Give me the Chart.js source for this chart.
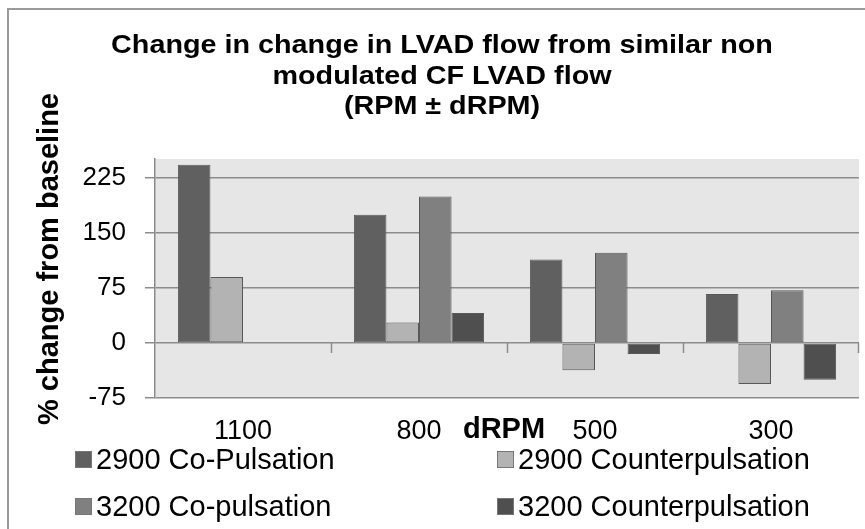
<!DOCTYPE html>
<html>
<head>
<meta charset="utf-8">
<script src="https://cdn.jsdelivr.net/npm/chart.js@4.4.1/dist/chart.umd.min.js"></script>
<style>
  body { margin: 0; background: #fff; }
  #wrap { position: relative; width: 865px; height: 529px; overflow: hidden; }
  #frame { position: absolute; left: 7px; top: 8px; width: 870px; height: 530px; border: 2px solid #9a9a9a; box-sizing: border-box; }
  canvas { position: absolute; left: 0; top: 0; }
  .leg { position: absolute; font: 29px "Liberation Sans", Arial, sans-serif; color: #000; white-space: nowrap; line-height: 34px; }
  .leg span.box { display: inline-block; width: 15px; height: 15px; border: 1px solid #777; margin-right: 4px; vertical-align: 1px; }
</style>
</head>
<body>
<div id="wrap">
  <div id="frame"></div>
  <canvas id="chart" width="865" height="529"></canvas>
  <div id="legend"></div>
</div>
<script>
// chart data
const categories = ['1100', '800', '500', '300'];
const seriesNames = ['2900 Co-Pulsation', '2900 Counterpulsation', '3200 Co-pulsation', '3200 Counterpulsation'];
const co2900 = [243, 175, 114, 67];
const counter2900 = [90, 28, -37, -56];
const co3200 = [null, 200, 123, 72];
const counter3200 = [null, 41, -15, -50];
const yTicks = [-75, 0, 75, 150, 225];

const titleLines = ['Change in change in LVAD flow from similar non', 'modulated CF LVAD flow', '(RPM \u00b1 dRPM)'];
const yTitle = '% change from baseline';
const xTitle = 'dRPM';

const colors = ['#606060', '#b3b3b3', '#808080', '#4f4f4f'];
const FONT = '"Liberation Sans", Arial, sans-serif';

// gray plot area, zero-line tick marks, titles
const extras = {
  id: 'extras',
  beforeDraw(chart) {
    const a = chart.chartArea, ctx = chart.ctx;
    ctx.save();
    ctx.fillStyle = '#e6e6e6';
    ctx.fillRect(a.left, a.top, a.right - a.left, a.bottom - a.top);
    ctx.restore();
  },
  afterDraw(chart) {
    const ctx = chart.ctx, x = chart.scales.x, y = chart.scales.y;
    const y0 = y.getPixelForValue(0);
    ctx.save();
    ctx.strokeStyle = '#8c8c8c';
    ctx.lineWidth = 1.5;
    for (let i = 1; i <= categories.length; i++) {
      let px = i < categories.length
        ? (x.getPixelForValue(i - 1) + x.getPixelForValue(i)) / 2
        : chart.chartArea.right - 1;
      px = Math.round(px) + 0.5;
      ctx.beginPath();
      ctx.moveTo(px, y0);
      ctx.lineTo(px, y0 + 10);
      ctx.stroke();
    }
    ctx.fillStyle = '#000';
    ctx.textAlign = 'center';

    // chart title, slightly widened like the original
    ctx.save();
    ctx.font = 'bold 25px ' + FONT;
    ctx.textBaseline = 'alphabetic';
    ctx.translate(442, 0);
    ctx.scale(1.15, 1);
    titleLines.forEach((t, i) => ctx.fillText(t, 0, 53 + i * 30.5));
    ctx.restore();

    ctx.textBaseline = 'middle';
    ctx.font = 'bold 29px ' + FONT;
    ctx.fillText(xTitle, 504, 430);
    ctx.translate(50, 259);
    ctx.rotate(-Math.PI / 2);
    ctx.fillText(yTitle, 0, 0);
    ctx.restore();
  }
};

const series = [co2900, counter2900, co3200, counter3200];

new Chart(document.getElementById('chart'), {
  type: 'bar',
  data: {
    labels: categories,
    datasets: series.map((d, i) => ({
      label: seriesNames[i],
      data: d,
      backgroundColor: colors[i],
      borderColor: '#585858',
      borderWidth: 1,
      borderSkipped: false,
      barPercentage: 1,
      categoryPercentage: 0.74
    }))
  },
  options: {
    responsive: false,
    animation: false,
    layout: { padding: { left: 0, right: 6, top: 159, bottom: 0 } },
    plugins: {
      legend: { display: false },
      tooltip: { enabled: false },
      title: { display: false }
    },
    scales: {
      x: {
        grid: { display: false, drawTicks: false },
        border: { display: false },
        ticks: { color: '#000', font: { family: FONT, size: 27 }, padding: 17, maxRotation: 0 },
        afterFit(s) { s.height = 131; }
      },
      y: {
        min: -75,
        max: 251,
        ticks: { stepSize: 75, color: '#000', font: { family: FONT, size: 26 }, padding: 19 },
        afterBuildTicks(s) { s.ticks = yTicks.map(v => ({ value: v })); },
        grid: { color: '#8c8c8c', lineWidth: 1.5, drawTicks: true, tickLength: 10, tickColor: '#8c8c8c' },
        border: { display: true, color: '#8c8c8c', width: 1.5 },
        afterFit(s) { s.width = 155; }
      }
    }
  },
  plugins: [extras]
});

// legend in two columns
const legPos = [[75, 442], [497, 442], [75, 489], [497, 489]];
const legend = document.getElementById('legend');
seriesNames.forEach((name, i) => {
  const el = document.createElement('div');
  el.className = 'leg';
  el.style.left = legPos[i][0] + 'px';
  el.style.top = legPos[i][1] + 'px';
  el.innerHTML = '<span class="box" style="background:' + colors[i] + '"></span>' + name;
  legend.appendChild(el);
});
</script>
</body>
</html>
